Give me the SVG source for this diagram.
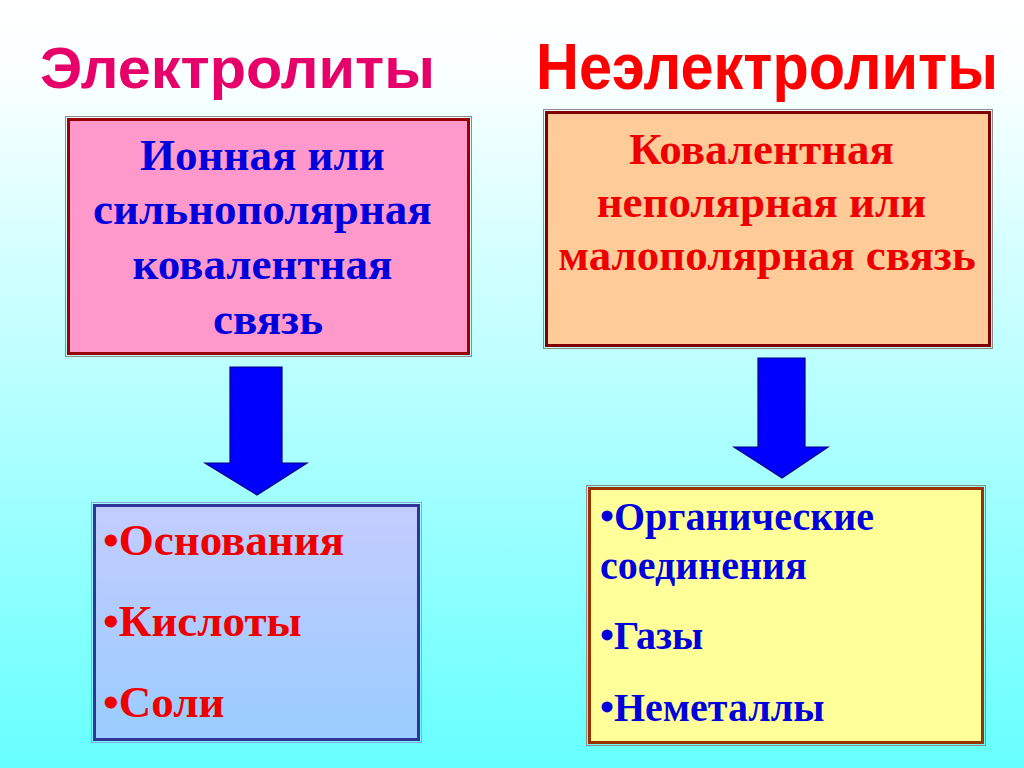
<svg xmlns="http://www.w3.org/2000/svg" width="1024" height="768" viewBox="0 0 1024 768">
<defs>
<linearGradient id="bg" x1="0" y1="0" x2="0" y2="1">
<stop offset="0" stop-color="#FFFFFF"/>
<stop offset="0.1" stop-color="#FAFFFF"/>
<stop offset="1" stop-color="#66FFFF"/>
</linearGradient>
<linearGradient id="blueFill" x1="0" y1="0" x2="0" y2="1">
<stop offset="0" stop-color="#C4CCFF"/>
<stop offset="1" stop-color="#99CCFF"/>
</linearGradient>
<style>
.title{font-family:"Liberation Sans Narrow","Liberation Sans",Arial,sans-serif;font-weight:bold;}
.serif{font-family:"Liberation Serif","Times New Roman",serif;font-weight:bold;}
.outer{fill:none;stroke:#8C8C8C;stroke-width:1;}
.arrow{fill:#0000FF;stroke:#000080;stroke-width:1.2;}
</style>
</defs>
<rect x="0" y="0" width="1024" height="768" fill="url(#bg)"/>

<g id="title-electrolytes">
<text class="title" transform="translate(40,88) scale(0.82,1)" x="0" y="0" font-size="58" fill="#E8006A" textLength="481.7" lengthAdjust="spacingAndGlyphs">Электролиты</text>
</g>
<g id="title-nonelectrolytes">
<text class="title" transform="translate(536,89) scale(0.82,1)" x="0" y="0" font-size="64" fill="#FF0000" textLength="563.4" lengthAdjust="spacingAndGlyphs">Неэлектролиты</text>
</g>

<g id="box-ionic">
<rect class="outer" x="65.5" y="116.5" width="406" height="240"/>
<rect x="68.5" y="119.5" width="400" height="234" fill="#FF99CC" stroke="#990000" stroke-width="3"/>
<text class="serif" font-size="45" fill="#0000DD" text-anchor="middle">
<tspan x="268" y="170">Ионная или</tspan>
<tspan x="268" y="224">сильнополярная</tspan>
<tspan x="268" y="279">ковалентная</tspan>
<tspan x="268" y="334">связь</tspan>
</text>
</g>

<g id="box-covalent">
<rect class="outer" x="543.5" y="109.5" width="449" height="239"/>
<rect x="546.5" y="112.5" width="443" height="233" fill="#FFCC99" stroke="#800000" stroke-width="3"/>
<text class="serif" font-size="45" fill="#EE0000" text-anchor="middle">
<tspan x="767" y="164">Ковалентная</tspan>
<tspan x="767" y="217">неполярная или</tspan>
<tspan x="767" y="270">малополярная связь</tspan>
</text>
</g>

<g id="box-electrolytes-list">
<rect x="91.5" y="502.5" width="330" height="240" fill="none" stroke="#8FA8E0" stroke-width="1"/>
<rect x="94.5" y="505.5" width="324" height="234" fill="url(#blueFill)" stroke="#333399" stroke-width="3"/>
<text class="serif" font-size="45" fill="#EE0000">
<tspan x="103" y="555">•Основания</tspan>
<tspan x="103" y="636">•Кислоты</tspan>
<tspan x="103" y="717">•Соли</tspan>
</text>
</g>

<g id="box-nonelectrolytes-list">
<rect class="outer" x="586.5" y="485.5" width="399" height="260"/>
<rect x="589.5" y="488.5" width="393" height="254" fill="#FFFF99" stroke="#993300" stroke-width="3"/>
<text class="serif" font-size="40" fill="#0000DD">
<tspan x="600" y="530">•Органические</tspan>
<tspan x="600" y="579">соединения</tspan>
<tspan x="600" y="649">•Газы</tspan>
<tspan x="600" y="721">•Неметаллы</tspan>
</text>
</g>

<g id="connectors">
<polygon class="arrow" points="230,367 282,367 282,463 307,463 257,495 205,463 230,463"/>
<polygon class="arrow" points="758,358 805,358 805,447 828,447 782,478 734,447 758,447"/>
</g>
</svg>
